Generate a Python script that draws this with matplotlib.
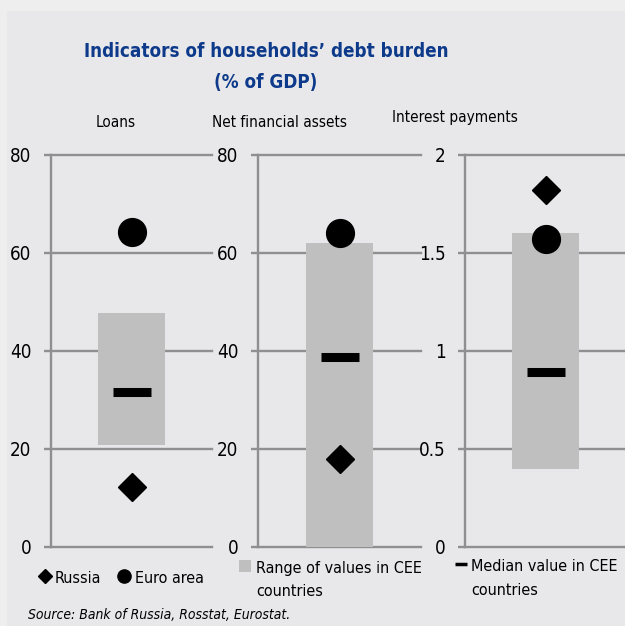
import matplotlib
matplotlib.use('Agg')
import matplotlib.pyplot as plt
from matplotlib.lines import Line2D
from matplotlib.patches import Rectangle

# household debt indicators, % of GDP
panels = ['Loans', 'Net financial assets', 'Interest payments']
range_low = [20.8, 0.0, 0.40]     # min value in CEE countries
range_high = [47.6, 62.0, 1.60]   # max value in CEE countries
median = [31.5, 38.7, 0.89]       # CEE median
russia = [12.3, 17.9, 1.82]
euro_area = [64.2, 64.0, 1.57]
y_max = [80, 80, 2]
y_ticks = [[0, 20, 40, 60, 80], [0, 20, 40, 60, 80], [0, 0.5, 1, 1.5, 2]]
y_ticklabels = [['0', '20', '40', '60', '80'], ['0', '20', '40', '60', '80'],
                ['0', '0.5', '1', '1.5', '2']]

# narrow face for all the text
plt.rcParams['font.family'] = ['DejaVu Sans']
plt.rcParams['font.stretch'] = 'condensed'

GRID = '#8f8f8f'
BOX = '#bfbfbf'
BLUE = '#0d3a8a'
LEG_FS = 11.5

W, H = 625, 626
fig = plt.figure(figsize=(6.25, 6.26), dpi=100, facecolor='#eeeeee')


def fx(px):
    return px / W


def fy(py):
    return 1 - py / H


# inner panel background
fig.patches.append(Rectangle((fx(7), 0), 1 - fx(7), fy(11), transform=fig.transFigure,
                             facecolor='#e8e8ea', edgecolor='none', zorder=-5))

# axes positions in pixels: (left, right)
axes_px = [(51, 212), (258, 421), (465, 626)]
top_px, bottom_px = 154.5, 547

for i, (l, r) in enumerate(axes_px):
    ax = fig.add_axes([fx(l), fy(bottom_px), (r - l) / W, (bottom_px - top_px) / H])
    ax.set_facecolor('none')
    ax.set_xlim(0, 1)
    ax.set_ylim(0, y_max[i])
    ax.set_yticks(y_ticks[i])
    ax.set_yticklabels(y_ticklabels[i])
    for s in ['top', 'right', 'bottom']:
        ax.spines[s].set_visible(False)
    ax.spines['left'].set_color(GRID)
    ax.spines['left'].set_linewidth(1.7)
    ax.tick_params(axis='y', length=5, width=1.7, color=GRID, pad=9, labelsize=13.5)
    ax.tick_params(axis='x', bottom=False, labelbottom=False)
    ax.yaxis.grid(True, color=GRID, lw=1.7)
    ax.set_axisbelow(True)
    for gl in ax.get_ygridlines():
        gl.set_clip_on(False)

    ax.bar(0.5, range_high[i] - range_low[i], bottom=range_low[i], width=0.41,
           color=BOX, zorder=2)
    ax.plot(0.5, median[i], marker='_', ms=28, mew=6.5, color='black', zorder=3)
    ax.plot(0.5, euro_area[i], 'o', ms=20, color='black', zorder=4, clip_on=False)
    ax.plot(0.5, russia[i], 'D', ms=14, color='black', zorder=4, clip_on=False)

# title
fig.text(fx(266), fy(57), "Indicators of households\u2019 debt burden", ha='center',
         va='baseline', fontsize=13.5, fontweight='bold', color=BLUE)
fig.text(fx(266), fy(88), "(% of GDP)", ha='center', va='baseline', fontsize=13.5,
         fontweight='bold', color=BLUE)

# panel headings
fig.text(fx(116), fy(127), panels[0], ha='center', va='baseline', fontsize=11)
fig.text(fx(279), fy(127), panels[1], ha='center', va='baseline', fontsize=11)
fig.text(fx(455), fy(122), panels[2], ha='center', va='baseline', fontsize=11)

# legend keys
fig.add_artist(Line2D([fx(45)], [fy(576)], marker='D', ms=7, color='black',
                      transform=fig.transFigure))
fig.text(fx(55), fy(583), 'Russia', ha='left', va='baseline', fontsize=LEG_FS)
fig.add_artist(Line2D([fx(124)], [fy(576)], marker='o', ms=9.5, color='black',
                      transform=fig.transFigure))
fig.text(fx(135), fy(583), 'Euro area', ha='left', va='baseline', fontsize=LEG_FS)

fig.patches.append(Rectangle((fx(239), fy(572)), 12 / W, 12 / H, transform=fig.transFigure,
                             facecolor=BOX, edgecolor='none', zorder=3))
fig.text(fx(256), fy(573), 'Range of values in CEE', ha='left', va='baseline', fontsize=LEG_FS)
fig.text(fx(256), fy(596), 'countries', ha='left', va='baseline', fontsize=LEG_FS)

fig.add_artist(Line2D([fx(455), fx(467)], [fy(564), fy(564)], lw=2.5, color='black',
                      solid_capstyle='butt', transform=fig.transFigure))
fig.text(fx(471), fy(571), 'Median value in CEE', ha='left', va='baseline', fontsize=LEG_FS)
fig.text(fx(471), fy(595), 'countries', ha='left', va='baseline', fontsize=LEG_FS)

fig.text(fx(28), fy(619), 'Source: Bank of Russia, Rosstat, Eurostat.', ha='left',
         va='baseline', fontsize=10, style='italic')

fig.savefig('out.png', dpi=100, facecolor=fig.get_facecolor())
